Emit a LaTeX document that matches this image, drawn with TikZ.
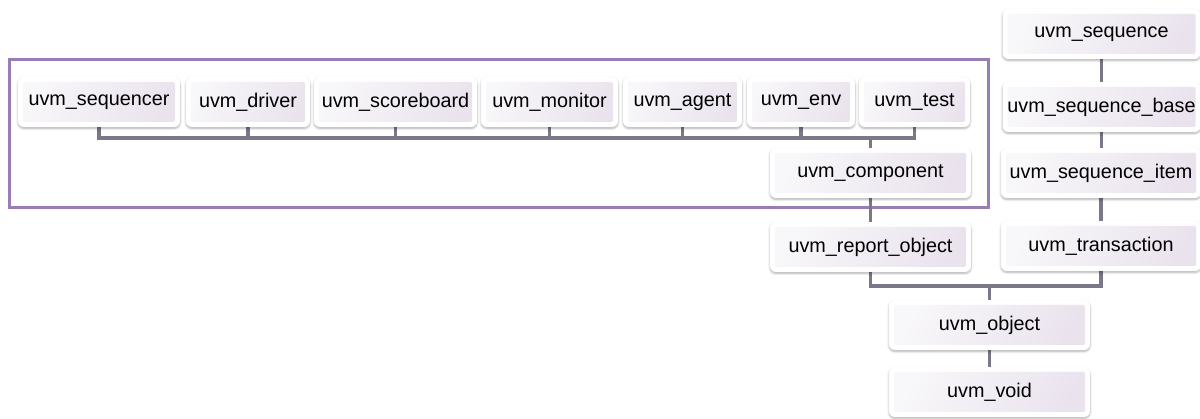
\documentclass[tikz,border=0pt]{standalone}
\usepackage{fontspec}
\setmainfont{Liberation Sans}
\usetikzlibrary{shadows.blur,backgrounds}
\definecolor{framepurple}{HTML}{9B7DB5}
\definecolor{conncol}{HTML}{7B7688}
\definecolor{boxlav}{HTML}{EAE3EE}
\definecolor{boxlight}{HTML}{F8F7F9}
\tikzset{
  uvmbox/.style={fill=white, draw=none, rounded corners=6pt,
    minimum height=50pt, inner sep=0pt,
    font=\fontsize{19.8}{23}\selectfont,
    blur shadow={shadow blur steps=6, shadow xshift=0pt, shadow yshift=-1.5pt,
      shadow blur extra rounding=2pt, shadow opacity=30},
    path picture={
      \fill[rounded corners=1.5pt, left color=boxlight, right color=boxlav, shading angle=60]
        ([shift={(5pt,5pt)}]path picture bounding box.south west)
        rectangle ([shift={(-5pt,-5pt)}]path picture bounding box.north east);
    }},
  conn/.style={draw=conncol, line width=3.5pt},
  frame/.style={draw=framepurple, line width=3pt}
}
\begin{document}
\begin{tikzpicture}[x=1pt,y=-1pt]
\useasboundingbox (0,0) rectangle (1200,419);
% top row
\node[uvmbox, minimum width=162pt] (seqr) at (99,102) {uvm\_sequencer};
\node[uvmbox, minimum width=124pt] (drv) at (248,102) {uvm\_driver};
\node[uvmbox, minimum width=163pt] (scb) at (395.5,102) {uvm\_scoreboard};
\node[uvmbox, minimum width=137pt] (mon) at (549.5,102) {uvm\_monitor};
\node[uvmbox, minimum width=119pt] (agt) at (682.5,102) {uvm\_agent};
\node[uvmbox, minimum width=108pt] (env) at (801,102) {uvm\_env};
\node[uvmbox, minimum width=111pt] (tst) at (914.5,102) {uvm\_test};
% middle column
\node[uvmbox, minimum width=201pt] (comp) at (870.5,173) {uvm\_component};
\node[uvmbox, minimum width=201pt] (rpt) at (870.5,247) {uvm\_report\_object};
% right column
\node[uvmbox, minimum width=198pt] (seq) at (1101.5,34) {uvm\_sequence};
\node[uvmbox, minimum width=198pt] (seqb) at (1101.5,107) {uvm\_sequence\_base};
\node[uvmbox, minimum width=200pt] (seqi) at (1101,173) {uvm\_sequence\_item};
\node[uvmbox, minimum width=200pt] (trn) at (1101,246) {uvm\_transaction};
% bottom
\node[uvmbox, minimum width=201pt] (obj) at (989.5,325) {uvm\_object};
\node[uvmbox, minimum width=201pt] (void) at (989.5,392) {uvm\_void};
\coordinate (bus) at (0,138);
\coordinate (join) at (0,286);
\begin{scope}[on background layer]
  \draw[frame] (9,60) rectangle (988,208);
  \draw[conn] (seqr.south) -- (seqr.south |- bus) -- (tst.south |- bus) -- (tst.south);
  \foreach \n in {drv,scb,mon,agt,env}
    \draw[conn] (\n.south) -- (\n.south |- bus);
  \draw[conn] (comp.north) -- (comp.north |- bus);
  \draw[conn] (comp.south) -- (rpt.north);
  \draw[conn] (seq.south) -- (seq.south |- seqb.north);
  \draw[conn] (seqb.south) -- (seqb.south |- seqi.north);
  \draw[conn] (seqi.south) -- (trn.north);
  \draw[conn] (rpt.south) -- (rpt.south |- join) -- (trn.south |- join) -- (trn.south);
  \draw[conn] (obj.north) -- (obj.north |- join);
  \draw[conn] (obj.south) -- (void.north);
\end{scope}
\end{tikzpicture}
\end{document}
